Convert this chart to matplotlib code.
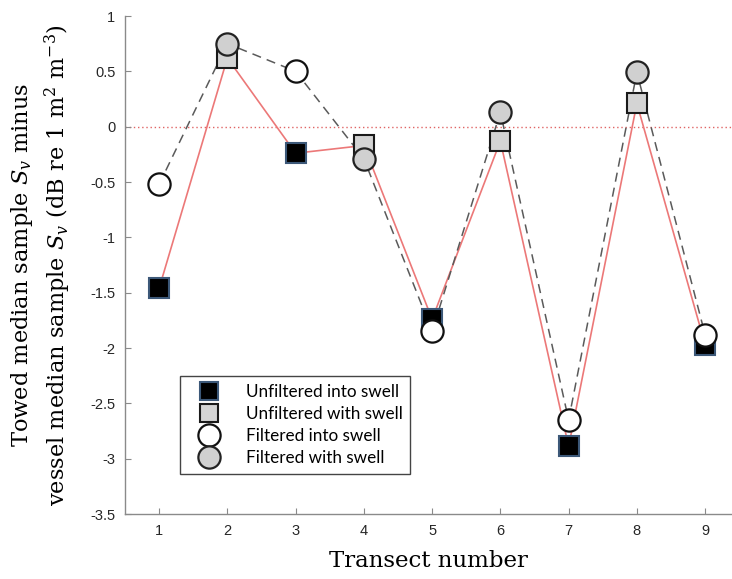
import matplotlib
matplotlib.use("Agg")
import matplotlib.pyplot as plt
from matplotlib.lines import Line2D

# ---- data ----
transects = [1, 2, 3, 4, 5, 6, 7, 8, 9]
unfiltered = [-1.46, 0.62, -0.24, -0.17, -1.74, -0.13, -2.89, 0.21, -1.97]
filtered = [-0.52, 0.75, 0.50, -0.29, -1.85, 0.13, -2.65, 0.49, -1.88]
into_swell = [True, False, True, False, True, False, True, False, True]
yticks = [1, 0.5, 0, -0.5, -1, -1.5, -2, -2.5, -3, -3.5]
legend_labels = ["Unfiltered into swell", "Unfiltered with swell",
                 "Filtered into swell", "Filtered with swell"]

plt.rcParams['mathtext.fontset'] = 'dejavuserif'

fig = plt.figure(figsize=(7.32, 5.79), dpi=100)
ax = fig.add_axes([125/732, 65/579, 607/732, 498/579])

ax.axhline(0, color='#e06464', linestyle=(0, (1, 2)), linewidth=1.0, zorder=1)
ax.plot(transects, unfiltered, color='#ec7878', linewidth=1.2, zorder=2)
ax.plot(transects, filtered, color='#5a5a5a', linewidth=1.1,
        linestyle=(0, (6, 4)), zorder=2)

xi = [t for t, s in zip(transects, into_swell) if s]
xw = [t for t, s in zip(transects, into_swell) if not s]
ui = [v for v, s in zip(unfiltered, into_swell) if s]
uw = [v for v, s in zip(unfiltered, into_swell) if not s]
fi = [v for v, s in zip(filtered, into_swell) if s]
fw = [v for v, s in zip(filtered, into_swell) if not s]

sq = dict(marker='s', markersize=14, linestyle='none', markeredgewidth=1.5)
ci = dict(marker='o', markersize=16, linestyle='none', markeredgewidth=1.6)
ax.plot(xi, ui, markerfacecolor='black', markeredgecolor='#3c5878', zorder=3, **sq)
ax.plot(xw, uw, markerfacecolor='#d4d4d4', markeredgecolor='#1a1a1a', zorder=3, **sq)
ax.plot(xi, fi, markerfacecolor='white', markeredgecolor='#111111', zorder=4, **ci)
ax.plot(xw, fw, markerfacecolor='#d0d0d0', markeredgecolor='#222222', zorder=4, **ci)

ax.set_xlim(0.5, 0.5 + 607/68.25)
ax.set_ylim(-3.5, 1)
ax.set_xticks(transects)
ax.set_yticks(yticks)
ax.set_xticklabels([str(t) for t in transects])
ax.set_yticklabels([f"{v:g}" for v in yticks])
for s in ['top', 'right']:
    ax.spines[s].set_visible(False)
for s in ['left', 'bottom']:
    ax.spines[s].set_color('#8a8a8a')
    ax.spines[s].set_linewidth(1.0)
ax.tick_params(direction='in', length=4, color='#8a8a8a', labelcolor='#262626',
               labelsize=10.5, pad=7)
for lab in ax.get_xticklabels() + ax.get_yticklabels():
    lab.set_family('Liberation Sans')

ax.set_xlabel('Transect number', family='DejaVu Serif', fontsize=16.5, labelpad=9)
ax.set_ylabel('Towed median sample $S_v$ minus\nvessel median sample $S_v$ (dB re 1 m$^2$ m$^{-3}$)',
              family='DejaVu Serif', fontsize=16.2, labelpad=12, linespacing=1.35)

handles = [
    Line2D([], [], marker='s', markersize=13, linestyle='none', markerfacecolor='black',
           markeredgecolor='#3c5878', markeredgewidth=1.5),
    Line2D([], [], marker='s', markersize=13, linestyle='none', markerfacecolor='#d4d4d4',
           markeredgecolor='#1a1a1a', markeredgewidth=1.5),
    Line2D([], [], marker='o', markersize=16, linestyle='none', markerfacecolor='white',
           markeredgecolor='#111111', markeredgewidth=1.6),
    Line2D([], [], marker='o', markersize=16, linestyle='none', markerfacecolor='#d0d0d0',
           markeredgecolor='#222222', markeredgewidth=1.6),
]
leg = ax.legend(handles, legend_labels, loc='lower left',
                bbox_to_anchor=((180-125)/607, (514-474)/498),
                borderaxespad=0, frameon=True, fancybox=False, framealpha=1,
                edgecolor='#444444', prop={'family': 'Lato', 'size': 12.3},
                labelspacing=0.36, handletextpad=0.9, borderpad=0.45,
                handlelength=2.5)
leg.get_frame().set_linewidth(1.0)

fig.savefig('out.png', dpi=100)
